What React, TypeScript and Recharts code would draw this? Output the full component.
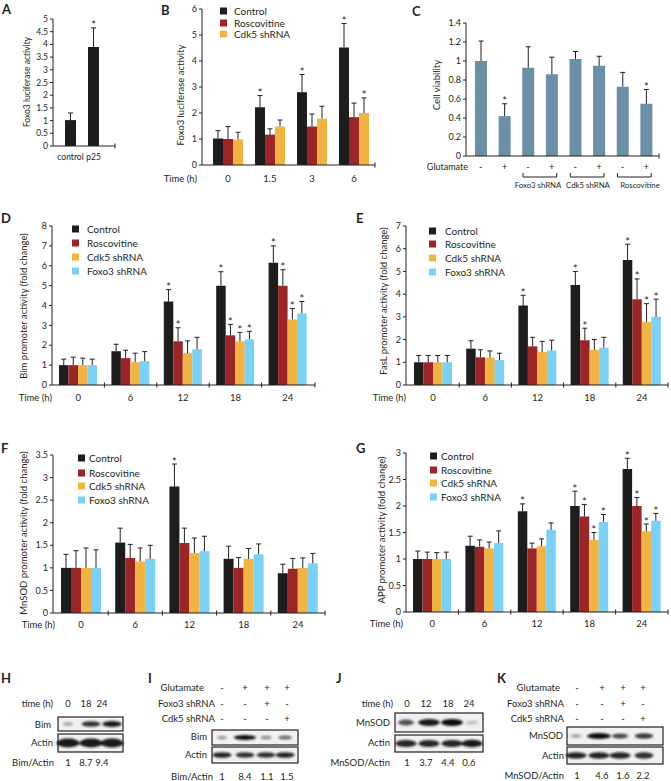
import { BarChart, Bar, XAxis, YAxis, LabelList } from "recharts";

const FONT = "Lato, 'Open Sans', sans-serif";
const INK = "#231f20";

const BLACK = "#1d1d1d";
const RED = "#9c2627";
const YELLOW = "#f2b441";
const CYAN = "#79d1f5";
const STEEL = "#6a8fa6";

// ---- A
const aCats = ["control", "p25"];
const aVals = [1.02, 3.9];
const aErr = [0.28, 0.75];
const aStar = [false, true];
const aTicks = [0, 0.5, 1, 1.5, 2, 2.5, 3, 3.5, 4, 4.5, 5];

// ---- B
const bTimes = ["0", "1.5", "3", "6"];
const bControl = [1.02, 2.22, 2.8, 4.52];
const bControlErr = [0.3, 0.45, 0.68, 0.92];
const bControlStar = [false, true, true, true];
const bRosc = [1.0, 1.17, 1.48, 1.84];
const bRoscErr = [0.48, 0.22, 0.48, 0.54];
const bRoscStar = [false, false, false, false];
const bCdk5 = [0.98, 1.48, 1.78, 2.0];
const bCdk5Err = [0.28, 0.25, 0.48, 0.58];
const bCdk5Star = [false, false, false, true];
const bTicks = [0, 1, 2, 3, 4, 5, 6];

// ---- C
const cGlut = ["-", "+", "-", "+", "-", "+", "-", "+"];
const cVals = [1.0, 0.42, 0.93, 0.86, 1.02, 0.95, 0.73, 0.55];
const cErr = [0.21, 0.13, 0.22, 0.18, 0.08, 0.1, 0.15, 0.15];
const cStar = [false, true, false, false, false, false, false, true];
const cGroups = ["Foxo3 shRNA", "Cdk5 shRNA", "Roscovitine"];
const cGroupX = [538, 588, 640];
const cTicks = [0, 0.2, 0.4, 0.6, 0.8, 1, 1.2, 1.4];

// ---- D-G shared
const hours = ["0", "6", "12", "18", "24"];
const legendNames = ["Control", "Roscovitine", "Cdk5 shRNA", "Foxo3 shRNA"];
const legendColors = [BLACK, RED, YELLOW, CYAN];

// D: Bim
const dControl = [1.0, 1.7, 4.2, 5.0, 6.15];
const dControlErr = [0.3, 0.35, 0.6, 0.7, 0.85];
const dRosc = [1.0, 1.35, 2.2, 2.5, 5.0];
const dRoscErr = [0.4, 0.4, 0.68, 0.55, 0.8];
const dCdk5 = [1.0, 1.15, 1.6, 2.2, 3.3];
const dCdk5Err = [0.35, 0.45, 0.62, 0.45, 0.55];
const dFoxo3 = [1.0, 1.2, 1.8, 2.3, 3.6];
const dFoxo3Err = [0.3, 0.48, 0.6, 0.4, 0.6];
const dStars = [
  [false, false, true, true, true],
  [false, false, true, true, true],
  [false, false, false, true, true],
  [false, false, false, true, true],
];
const dTicks = [0, 1, 2, 3, 4, 5, 6, 7, 8];

// E: FasL
const eControl = [1.0, 1.6, 3.5, 4.4, 5.5];
const eControlErr = [0.3, 0.35, 0.45, 0.6, 0.7];
const eRosc = [1.0, 1.22, 1.7, 1.97, 3.78];
const eRoscErr = [0.3, 0.33, 0.4, 0.53, 0.89];
const eCdk5 = [1.0, 1.2, 1.45, 1.55, 2.78];
const eCdk5Err = [0.3, 0.3, 0.47, 0.45, 0.8];
const eFoxo3 = [1.0, 1.1, 1.52, 1.65, 3.0];
const eFoxo3Err = [0.3, 0.3, 0.45, 0.45, 0.78];
const eStars = [
  [false, false, true, true, true],
  [false, false, false, true, true],
  [false, false, false, false, true],
  [false, false, false, false, true],
];
const eTicks = [0, 1, 2, 3, 4, 5, 6, 7];

// F: MnSOD
const fControl = [1.0, 1.56, 2.8, 1.2, 0.88];
const fControlErr = [0.3, 0.32, 0.5, 0.28, 0.2];
const fRosc = [1.0, 1.22, 1.55, 1.0, 0.98];
const fRoscErr = [0.38, 0.3, 0.33, 0.23, 0.23];
const fCdk5 = [1.0, 1.14, 1.33, 1.2, 1.0];
const fCdk5Err = [0.44, 0.3, 0.33, 0.23, 0.22];
const fFoxo3 = [1.0, 1.2, 1.37, 1.3, 1.1];
const fFoxo3Err = [0.4, 0.3, 0.33, 0.23, 0.22];
const fStars = [
  [false, false, true, false, false],
  [false, false, false, false, false],
  [false, false, false, false, false],
  [false, false, false, false, false],
];
const fTicks = [0, 0.5, 1, 1.5, 2, 2.5, 3, 3.5];

// G: APP
const gControl = [1.0, 1.25, 1.9, 2.0, 2.7];
const gControlErr = [0.15, 0.18, 0.14, 0.28, 0.2];
const gRosc = [1.0, 1.23, 1.2, 1.8, 2.0];
const gRoscErr = [0.13, 0.13, 0.1, 0.23, 0.16];
const gCdk5 = [1.0, 1.2, 1.24, 1.36, 1.52];
const gCdk5Err = [0.12, 0.12, 0.14, 0.14, 0.14];
const gFoxo3 = [1.0, 1.3, 1.55, 1.7, 1.72];
const gFoxo3Err = [0.13, 0.23, 0.13, 0.14, 0.14];
const gStars = [
  [false, false, true, true, true],
  [false, false, false, true, true],
  [false, false, false, true, true],
  [false, false, false, true, true],
];
const gTicks = [0, 0.5, 1, 1.5, 2, 2.5, 3];

// ---- blots
const hTimes = ["0", "18", "24"];
const hCols = [68, 86, 102];
const hLanes = [68, 91, 112];
const hBim = [0.3, 0.85, 0.95];
const hActin = [0.95, 0.95, 0.95];
const hRatio = ["1", "8.7", "9.4"];

const iGlut = ["-", "+", "+", "+"];
const iFoxo3 = ["-", "-", "+", "-"];
const iCdk5 = ["-", "-", "-", "+"];
const iCols = [222, 245, 267, 287];
const iLanes = [222, 245, 266, 285];
const iBim = [0.4, 1.0, 0.45, 0.6];
const iActin = [0.9, 0.85, 0.85, 0.9];
const iRatio = ["1", "8.4", "1.1", "1.5"];

const jTimes = ["0", "12", "18", "24"];
const jCols = [407, 426, 448, 469];
const jLanes = [406, 429, 452, 472];
const jMnsod = [0.7, 0.95, 1.0, 0.2];
const jActin = [0.9, 0.9, 0.9, 0.95];
const jRatio = ["1", "3.7", "4.4", "0.6"];

const kGlut = ["-", "+", "+", "+"];
const kFoxo3 = ["-", "-", "+", "-"];
const kCdk5 = ["-", "-", "-", "+"];
const kCols = [577, 602, 623, 643];
const kLanes = [576, 599, 620, 644];
const kMnsod = [0.3, 1.0, 0.75, 0.8];
const kActin = [0.9, 0.9, 0.9, 0.85];
const kRatio = ["1", "4.6", "1.6", "2.2"];

type Series = { color: string; vals: number[]; err: number[]; star: boolean[] };
type Geo = {
  x0: number; yTop: number; y0: number; xEnd: number;
  padL: number; padR: number; barSize: number; yMax: number;
  ticks: number[]; labelDy: number; sep: boolean; labelSize?: number; tickSize?: number;
};

function four(v: number[][], e: number[][], stars: boolean[][]): Series[] {
  return v.map((vals, k) => ({ color: legendColors[k], vals, err: e[k], star: stars[k] }));
}

function GroupChart({ labels, series, geo }: { labels: string[]; series: Series[]; geo: Geo }) {
  const YW = 30, MT = 10, MR = 8, XH = 24;
  const plotH = geo.y0 - geo.yTop;
  const width = YW + (geo.xEnd - geo.x0) + MR;
  const height = MT + plotH + XH;
  const ppu = plotH / geo.yMax;
  const n = labels.length;
  const band = (geo.xEnd - geo.x0 - geo.padL - geo.padR) / n;
  const axisY = MT + plotH;

  const data = labels.map((l, i) => {
    const row: any = { cat: "c" + i };
    series.forEach((s, k) => { row["s" + k] = s.vals[i]; });
    return row;
  });

  const tick = (p: any) => {
    const i = p.payload?.index ?? p.index ?? 0;
    const cx = p.x;
    const marks: number[] = [];
    if (i === n - 1) marks.push(cx + band / 2 + geo.padR);
    else if (geo.sep) marks.push(cx + band / 2);
    return (
      <g>
        {marks.map((m, j) => (
          <line key={j} x1={m} x2={m} y1={axisY - 2.5} y2={axisY + 2.5} stroke={INK} />
        ))}
        <text x={cx} y={axisY + geo.labelDy} textAnchor="middle" fontSize={geo.labelSize ?? 9.5} fontFamily={FONT} fill={INK}>
          {labels[i]}
        </text>
      </g>
    );
  };

  const errMark = (p: any, s: Series) => {
    const vb = p.viewBox && p.viewBox.width !== undefined ? p.viewBox : p;
    const i = p.index;
    const x = Number(vb.x), y = Number(vb.y), w = Number(vb.width);
    if (i == null || isNaN(x)) return null;
    const top = y - s.err[i] * ppu;
    const cx = x + w / 2;
    return (
      <g>
        <line x1={cx} x2={cx} y1={y} y2={top} stroke={INK} strokeWidth={1} />
        <line x1={cx - 2.5} x2={cx + 2.5} y1={top} y2={top} stroke={INK} strokeWidth={1} />
        {s.star[i] && (
          <text x={cx} y={top + 1.5} textAnchor="middle" fontSize={11} fontFamily={FONT} fill={INK}>*</text>
        )}
      </g>
    );
  };

  return (
    <div style={{ position: "absolute", left: geo.x0 - YW, top: geo.yTop - MT }}>
      <BarChart width={width} height={height} data={data} margin={{ top: MT, right: MR, left: 0, bottom: 0 }} barGap={0}>
        <XAxis
          dataKey="cat"
          height={XH}
          padding={{ left: geo.padL, right: geo.padR }}
          axisLine={{ stroke: INK }}
          tickLine={false}
          interval={0}
          tick={tick}
        />
        <YAxis
          width={YW}
          type="number"
          domain={[0, geo.yMax]}
          ticks={geo.ticks}
          interval={0}
          tickSize={3}
          tickMargin={2}
          allowDataOverflow
          axisLine={{ stroke: INK }}
          tickLine={{ stroke: INK }}
          tick={{ fontSize: geo.tickSize ?? 9, fill: INK, fontFamily: FONT }}
        />
        {series.map((s, k) => (
          <Bar key={k} dataKey={"s" + k} fill={s.color} barSize={geo.barSize} isAnimationActive={false}>
            <LabelList dataKey={"s" + k} content={(p: any) => errMark(p, s)} />
          </Bar>
        ))}
      </BarChart>
    </div>
  );
}

function Legend4({ x, tx, rows, names, colors }: { x: number; tx: number; rows: number[]; names: string[]; colors: string[] }) {
  return (
    <g>
      {names.map((nm, i) => (
        <g key={nm}>
          <rect x={x} y={rows[i] - 3.5} width={7} height={7} fill={colors[i]} />
          <text x={tx} y={rows[i] + 3.5} fontSize={10} fontFamily={FONT} fill={INK}>{nm}</text>
        </g>
      ))}
    </g>
  );
}

function YTitle({ x, y, text, size = 9.5 }: { x: number; y: number; text: string; size?: number }) {
  return (
    <text x={x} y={y} transform={`rotate(-90 ${x} ${y})`} textAnchor="middle" dominantBaseline="middle" fontSize={size} fontFamily={FONT} fill={INK}>
      {text}
    </text>
  );
}

function T({ x, y, s, anchor = "middle", size = 9.5, bold = false }: { x: number; y: number; s: string; anchor?: string; size?: number; bold?: boolean }) {
  return (
    <text x={x} y={y} textAnchor={anchor as any} fontSize={size} fontWeight={bold ? 700 : 400} fontFamily={FONT} fill={INK}>
      {s}
    </text>
  );
}

function Blot({ x1, x2, y1, y2, lanes, vals, rx, ry }: { x1: number; x2: number; y1: number; y2: number; lanes: number[]; vals: number[]; rx: number[]; ry: number }) {
  const cy = (y1 + y2) / 2;
  return (
    <g>
      <rect x={x1} y={y1} width={x2 - x1} height={y2 - y1} fill="#f1f1f1" />
      <g filter="url(#blur)">
        {lanes.map((lx, i) => (
          <ellipse key={i} cx={lx} cy={cy} rx={rx[i] * (0.6 + 0.4 * vals[i])} ry={ry * (0.5 + 0.5 * vals[i])} fill="#111" opacity={vals[i]} />
        ))}
      </g>
      <rect x={x1} y={y1} width={x2 - x1} height={y2 - y1} fill="none" stroke={INK} strokeWidth={1.2} />
    </g>
  );
}

export default function App() {
  const aSeries: Series[] = [{ color: BLACK, vals: aVals, err: aErr, star: aStar }];
  const bSeries: Series[] = [
    { color: BLACK, vals: bControl, err: bControlErr, star: bControlStar },
    { color: RED, vals: bRosc, err: bRoscErr, star: bRoscStar },
    { color: YELLOW, vals: bCdk5, err: bCdk5Err, star: bCdk5Star },
  ];
  const cSeries: Series[] = [{ color: STEEL, vals: cVals, err: cErr, star: cStar }];
  const dSeries = four([dControl, dRosc, dCdk5, dFoxo3], [dControlErr, dRoscErr, dCdk5Err, dFoxo3Err], dStars);
  const eSeries = four([eControl, eRosc, eCdk5, eFoxo3], [eControlErr, eRoscErr, eCdk5Err, eFoxo3Err], eStars);
  const fSeries = four([fControl, fRosc, fCdk5, fFoxo3], [fControlErr, fRoscErr, fCdk5Err, fFoxo3Err], fStars);
  const gSeries = four([gControl, gRosc, gCdk5, gFoxo3], [gControlErr, gRoscErr, gCdk5Err, gFoxo3Err], gStars);

  // C bracket pairs (bar index ranges)
  const cBand = (659 - 466 - 3 - 1) / cGlut.length;
  const cCenter = (i: number) => 466 + 3 + cBand * (i + 0.5);

  return (
    <div style={{ position: "absolute", left: 0, top: 0, width: 671, height: 781, background: "#fff", overflow: "hidden" }}>
      <GroupChart labels={aCats} series={aSeries}
        geo={{ x0: 53, yTop: 19, y0: 146, xEnd: 115, padL: 6, padR: 10, barSize: 11, yMax: 5, ticks: aTicks, labelDy: 14, sep: false, labelSize: 8.5, tickSize: 8.5 }} />
      <GroupChart labels={bTimes} series={bSeries}
        geo={{ x0: 202, yTop: 9, y0: 165, xEnd: 375, padL: 5, padR: 0, barSize: 10, yMax: 6, ticks: bTicks, labelDy: 16.5, sep: false }} />
      <GroupChart labels={cGlut} series={cSeries}
        geo={{ x0: 466, yTop: 23, y0: 156, xEnd: 659, padL: 3, padR: 1, barSize: 12, yMax: 1.4, ticks: cTicks, labelDy: 13.5, sep: false }} />
      <GroupChart labels={hours} series={dSeries}
        geo={{ x0: 52, yTop: 226, y0: 385, xEnd: 315, padL: 0, padR: 1, barSize: 9.5, yMax: 8, ticks: dTicks, labelDy: 15.5, sep: true }} />
      <GroupChart labels={hours} series={eSeries}
        geo={{ x0: 406, yTop: 226, y0: 385, xEnd: 668, padL: 1, padR: 0, barSize: 9.5, yMax: 7, ticks: eTicks, labelDy: 15.5, sep: true }} />
      <GroupChart labels={hours} series={fSeries}
        geo={{ x0: 53, yTop: 455, y0: 613, xEnd: 325, padL: 1, padR: 0, barSize: 10, yMax: 3.5, ticks: fTicks, labelDy: 14.5, sep: true }} />
      <GroupChart labels={hours} series={gSeries}
        geo={{ x0: 406, yTop: 453, y0: 612, xEnd: 668, padL: 0, padR: 0, barSize: 9.5, yMax: 3, ticks: gTicks, labelDy: 14.5, sep: true }} />

      <svg width={671} height={781} style={{ position: "absolute", left: 0, top: 0, pointerEvents: "none" }}>
        <defs>
          <filter id="blur" x="-50%" y="-100%" width="200%" height="300%">
            <feGaussianBlur stdDeviation="1.1" />
          </filter>
        </defs>

        {/* panel letters */}
        <T x={2} y={14} s="A" anchor="start" size={13} bold />
        <T x={161} y={15} s="B" anchor="start" size={13} bold />
        <T x={412} y={16} s="C" anchor="start" size={13} bold />
        <T x={1} y={223} s="D" anchor="start" size={13} bold />
        <T x={356} y={223} s="E" anchor="start" size={13} bold />
        <T x={1} y={453} s="F" anchor="start" size={13} bold />
        <T x={356} y={453} s="G" anchor="start" size={13} bold />
        <T x={1} y={683} s="H" anchor="start" size={13} bold />
        <T x={148} y={683} s="I" anchor="start" size={13} bold />
        <T x={336} y={683} s="J" anchor="start" size={13} bold />
        <T x={497} y={683} s="K" anchor="start" size={13} bold />

        {/* axis titles */}
        <YTitle x={28} y={82} text="Foxo3 luciferase activity" size={8.5} />
        <YTitle x={182} y={95} text="Foxo3 luciferase activity" />
        <YTitle x={438} y={85} text="Cell viability" />
        <YTitle x={25} y={306} text="Bim  promoter activity (fold change)" />
        <YTitle x={385} y={301} text="FasL promoter activity (fold change)" />
        <YTitle x={25} y={533} text="MnSOD  promoter activity (fold change)" />
        <YTitle x={383} y={530} text="APP promoter activity (fold change)" />

        <T x={197} y={181.5} s="Time (h)" anchor="end" />
        <T x={52} y={400.5} s="Time (h)" anchor="end" />
        <T x={406} y={400.5} s="Time (h)" anchor="end" />
        <T x={55} y={627.5} s="Time (h)" anchor="end" />
        <T x={403} y={626.5} s="Time (h)" anchor="end" />

        {/* legends */}
        <Legend4 x={220} tx={234} rows={[11, 23, 34]} names={legendNames.slice(0, 3)} colors={legendColors.slice(0, 3)} />
        <Legend4 x={72} tx={87} rows={[229, 243, 257, 271]} names={legendNames} colors={legendColors} />
        <Legend4 x={429} tx={445} rows={[231, 244, 258, 272]} names={legendNames} colors={legendColors} />
        <Legend4 x={78} tx={89} rows={[458, 473, 486, 500]} names={legendNames} colors={legendColors} />
        <Legend4 x={430} tx={441} rows={[456, 470, 483, 497]} names={legendNames} colors={legendColors} />

        {/* C: glutamate row + brackets */}
        <T x={468} y={170} s="Glutamate" anchor="end" size={9} />
        {cGroups.map((g, k) => {
          const l = cCenter(2 + 2 * k) - 5;
          const r = cCenter(3 + 2 * k) + 5;
          return (
            <g key={g}>
              <path d={`M${l} 173 V177 H${r} V173`} fill="none" stroke={INK} strokeWidth={1} />
              <T x={cGroupX[k]} y={188} s={g} size={7.8} />
            </g>
          );
        })}

        {/* H */}
        <T x={53} y={707} s="time (h)" anchor="end" size={9.5} />
        {hTimes.map((t, i) => <T key={i} x={hCols[i]} y={707} s={t} />)}
        <T x={51} y={728} s="Bim" anchor="end" />
        <T x={53} y={746} s="Actin" anchor="end" />
        <Blot x1={58} x2={123} y1={717} y2={731} lanes={hLanes} vals={hBim} rx={[7, 10, 10]} ry={3} />
        <Blot x1={58} x2={123} y1={734} y2={752} lanes={hLanes} vals={hActin} rx={[12, 12, 12]} ry={4.5} />
        <T x={54} y={766} s="Bim/Actin" anchor="end" />
        {hRatio.map((t, i) => <T key={i} x={hCols[i]} y={766} s={t} />)}

        {/* I */}
        <T x={204} y={691} s="Glutamate" anchor="end" />
        {iGlut.map((t, i) => <T key={i} x={iCols[i]} y={691} s={t} />)}
        <T x={215} y={707} s="Foxo3 shRNA" anchor="end" />
        {iFoxo3.map((t, i) => <T key={i} x={iCols[i]} y={707} s={t} />)}
        <T x={215} y={722} s="Cdk5 shRNA" anchor="end" />
        {iCdk5.map((t, i) => <T key={i} x={iCols[i]} y={722} s={t} />)}
        <T x={207} y={740} s="Bim" anchor="end" />
        <T x={207} y={758} s="Actin" anchor="end" />
        <Blot x1={212} x2={298} y1={730} y2={745} lanes={iLanes} vals={iBim} rx={[6, 11, 7, 8]} ry={2.5} />
        <Blot x1={212} x2={298} y1={747} y2={763} lanes={iLanes} vals={iActin} rx={[10, 10, 10, 10]} ry={3} />
        <T x={213} y={780} s="Bim/Actin" anchor="end" />
        {iRatio.map((t, i) => <T key={i} x={iCols[i]} y={780} s={t} />)}

        {/* J */}
        <T x={393} y={707} s="time (h)" anchor="end" />
        {jTimes.map((t, i) => <T key={i} x={jCols[i]} y={707} s={t} />)}
        <T x={390} y={726} s="MnSOD" anchor="end" />
        <T x={390} y={746} s="Actin" anchor="end" />
        <Blot x1={395} x2={483} y1={713} y2={732} lanes={jLanes} vals={jMnsod} rx={[9, 11, 11, 9]} ry={3.5} />
        <Blot x1={395} x2={483} y1={735} y2={752} lanes={jLanes} vals={jActin} rx={[11, 11, 11, 11]} ry={3.8} />
        <T x={390} y={766} s="MnSOD/Actin" anchor="end" />
        {jRatio.map((t, i) => <T key={i} x={jCols[i]} y={766} s={t} />)}

        {/* K */}
        <T x={560} y={691} s="Glutamate" anchor="end" />
        {kGlut.map((t, i) => <T key={i} x={kCols[i]} y={691} s={t} />)}
        <T x={564} y={707} s="Foxo3 shRNA" anchor="end" />
        {kFoxo3.map((t, i) => <T key={i} x={kCols[i]} y={707} s={t} />)}
        <T x={564} y={722} s="Cdk5 shRNA" anchor="end" />
        {kCdk5.map((t, i) => <T key={i} x={kCols[i]} y={722} s={t} />)}
        <T x={563} y={739} s="MnSOD" anchor="end" />
        <T x={564} y={759} s="Actin" anchor="end" />
        <Blot x1={567} x2={663} y1={727} y2={745} lanes={kLanes} vals={kMnsod} rx={[7, 12, 9, 10]} ry={3} />
        <Blot x1={567} x2={663} y1={747} y2={764} lanes={kLanes} vals={kActin} rx={[11, 11, 11, 10]} ry={3.4} />
        <T x={564} y={779} s="MnSOD/Actin" anchor="end" />
        {kRatio.map((t, i) => <T key={i} x={kCols[i]} y={779} s={t} />)}
      </svg>
    </div>
  );
}
